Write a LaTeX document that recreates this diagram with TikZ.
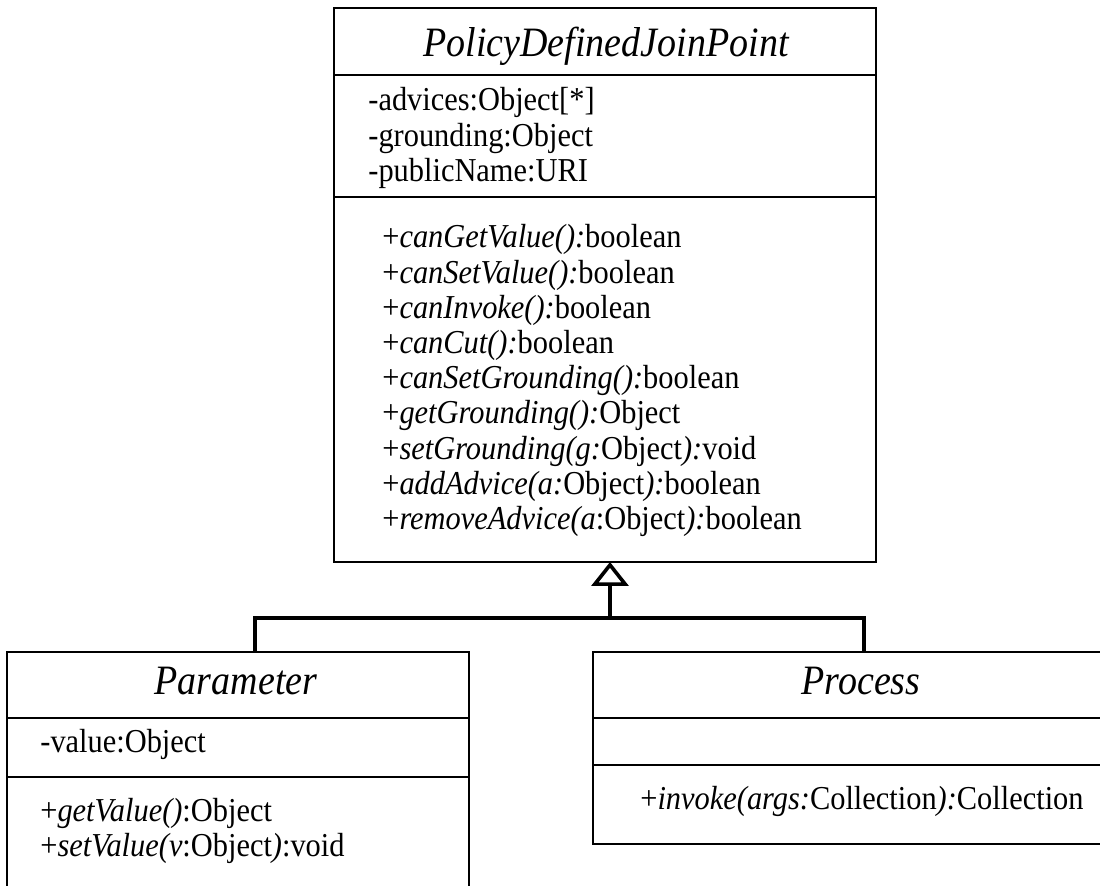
\documentclass[tikz,border=0pt]{standalone}
\usepackage{fontspec}
\setmainfont{Liberation Serif}
\usetikzlibrary{positioning,arrows.meta}

\begin{document}
\begin{tikzpicture}[
        x=0.5pt, y=-0.5pt,
        part/.style={draw,rectangle,line width=0.9pt,inner sep=0pt,outer sep=0pt},
        cname/.style={anchor=base,inner sep=0pt,font=\fontsize{19}{22}\selectfont\itshape,transform shape,yscale=1.1},
        member/.style={anchor=base west,inner sep=0pt,font=\fontsize{15.2}{18}\selectfont,transform shape,yscale=1.1},
        gen/.style={line width=1.8pt,line join=miter},
        node distance=0pt
    ]

    \useasboundingbox (0,0) rectangle (1100,886);
    \clip (0,0) rectangle (1100,886);
    \fill[white] (0,0) rectangle (1100,886);

    % PolicyDefinedJoinPoint
    \node[part,minimum width=271pt,minimum height=33.5pt] (pdjpName) at (605,41.5) {};
    \node[part,minimum width=271pt,minimum height=61pt,below=of pdjpName] (pdjpAttrs) {};
    \node[part,minimum width=271pt,minimum height=182.5pt,below=of pdjpAttrs] (pdjpOps) {};
    \node[cname] (pdjpTitle) at (606,57) {PolicyDefinedJoinPoint};
    \foreach \txt [count=\i] in {{-advices:Object[*]},{-grounding:Object},{-publicName:URI}}
        \node[member] (pdjpAttr\i) at (368,{111+35.5*(\i-1)}) {\txt};
    \foreach \txt [count=\i] in {
            {+\textit{canGetValue():}boolean},
            {+\textit{canSetValue():}boolean},
            {+\textit{canInvoke():}boolean},
            {+\textit{canCut():}boolean},
            {+\textit{canSetGrounding():}boolean},
            {+\textit{getGrounding():}Object},
            {+\textit{setGrounding(g:}Object\textit{):}void},
            {+\textit{addAdvice(a:}Object\textit{):}boolean},
            {+\textit{removeAdvice(a}:Object\textit{):}boolean}}
        \node[member] (pdjpOp\i) at (382,{248+35.2*(\i-1)}) {\txt};

    % Parameter
    \node[part,minimum width=231pt,minimum height=33pt] (paramName) at (238,685) {};
    \node[part,minimum width=231pt,minimum height=29.5pt,below=of paramName] (paramAttrs) {};
    \node[part,minimum width=231pt,minimum height=62pt,below=of paramAttrs] (paramOps) {};
    \node[cname] (paramTitle) at (236,695) {Parameter};
    \node[member] (paramAttr1) at (40,753) {-value:Object};
    \node[member] (paramOp1) at (40,822) {+\textit{getValue()}:Object};
    \node[member] (paramOp2) at (40,857) {+\textit{setValue(v}:Object\textit{)}:void};

    % Process
    \node[part,minimum width=268pt,minimum height=33pt] (procName) at (861,685) {};
    \node[part,minimum width=268pt,minimum height=23.5pt,below=of procName] (procAttrs) {};
    \node[part,minimum width=268pt,minimum height=39.5pt,below=of procAttrs] (procOps) {};
    \node[cname] (procTitle) at (861,695) {Process};
    \node[member] (procOp1) at (640,810) {+\textit{invoke(args:}Collection\textit{):}Collection};

    % generalisation
    \coordinate (genFork) at (610,618);
    \coordinate (paramFork) at (255,618);
    \coordinate (procFork) at (864,618);
    \draw[gen] (paramName.north -| paramFork) -- (paramFork) -- (procFork) -- (procName.north -| procFork);
    \draw[gen,-{Triangle[open,length=12pt,width=18.5pt]}] (genFork) -- (pdjpOps.south -| genFork);

\end{tikzpicture}
\end{document}
